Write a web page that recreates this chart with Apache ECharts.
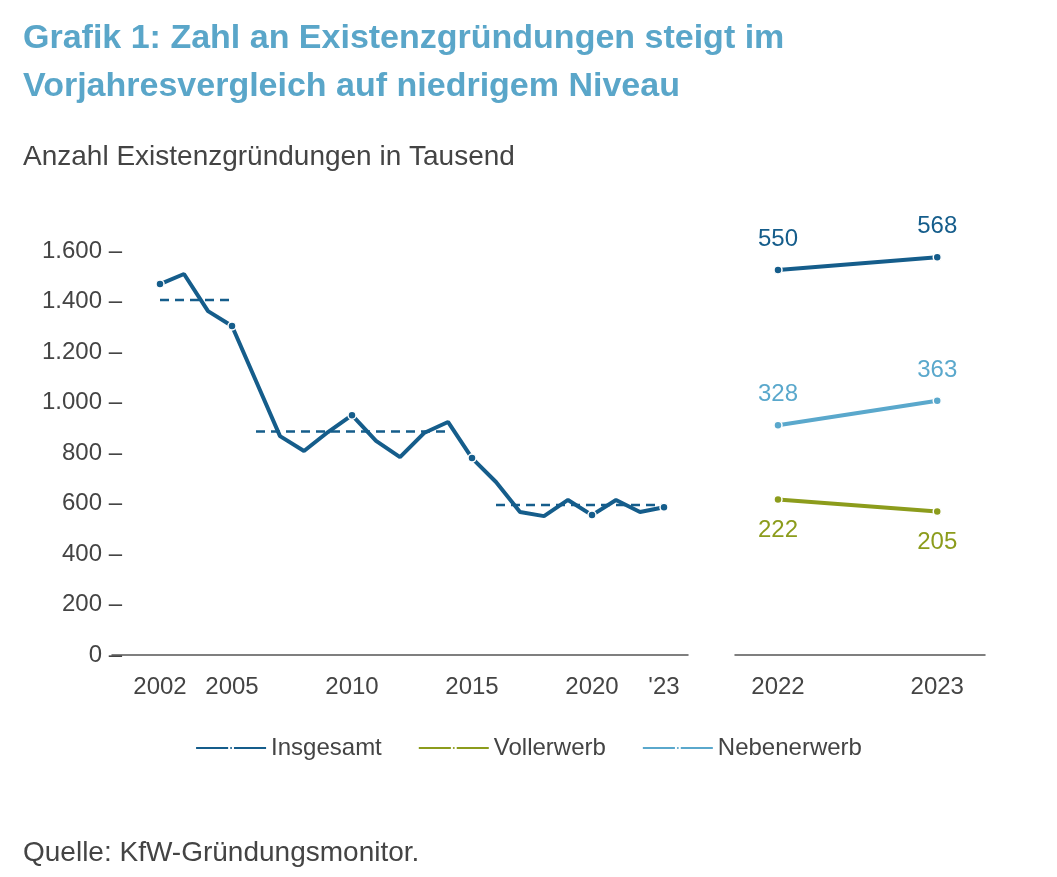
<!DOCTYPE html>
<html><head><meta charset="utf-8">
<script src="https://cdn.jsdelivr.net/npm/echarts@6/dist/echarts.min.js"></script>
<style>body{margin:0}#c{width:1057px;height:877px}</style></head>
<body><div id="c"></div>
<script>
const years = [2002,2003,2004,2005,2006,2007,2008,2009,2010,2011,2012,2013,2014,2015,2016,2017,2018,2019,2020,2021,2022,2023];
const insgesamt = [1469,1509,1362,1303,1085,867,808,883,950,848,784,879,923,780,685,566,550,614,554,614,566,585];
const markedYears = [2002,2005,2010,2015,2020,2023];
const avg1 = [[2002,1406],[2005,1406]];
const avg2 = [[2006,885],[2014,885]];
const avg3 = [[2016,594],[2023,594]];
const xTicks = [2002,2005,2010,2015,2020,2023];
const yTicks = [0,200,400,600,800,1000,1200,1400,1600];
const rYears = [2022,2023];
const rInsgesamt = [550,568];
const rVoll = [222,205];
const rNeben = [328,363];
const changes = ['+3 %','-8 %','+11 %'];

const F='Liberation Sans';
const dark='#155d8b', light='#5aa8cc', green='#8c9c1c', gray='#444';
const chart = echarts.init(document.getElementById('c'));
const lbl = (pos,color)=>({show:true,position:pos,distance:14,color:color,fontSize:24,fontFamily:F});
const pct = (t,color)=>({show:true,position:'inside',formatter:t,color:color,fontSize:24,fontFamily:F});
chart.setOption({
  animation:false,
  textStyle:{fontFamily:F},
  title:[
    {text:'Grafik 1: Zahl an Existenzgründungen steigt im\nVorjahresvergleich auf niedrigem Niveau',left:18,top:10,
     textStyle:{color:'#5aa6c9',fontSize:34,fontWeight:'bold',lineHeight:48,fontFamily:F}},
    {text:'Anzahl Existenzgründungen in Tausend',left:18,top:138,textStyle:{color:gray,fontSize:28,fontWeight:'normal',fontFamily:F}},
    {text:'Quelle: KfW-Gründungsmonitor.',left:18,top:834,textStyle:{color:gray,fontSize:28,fontWeight:'normal',fontFamily:F}}
  ],
  legend:{bottom:112,left:'center',itemWidth:70,itemHeight:5,itemGap:36,
    textStyle:{color:gray,fontSize:24,fontFamily:F},data:['Insgesamt','Vollerwerb','Nebenerwerb']},
  grid:[
    {left:112,right:369,top:251,bottom:222},
    {left:735,right:72,top:251,bottom:222}
  ],
  xAxis:[
    {type:'value',gridIndex:0,min:2000,max:2024,splitLine:{show:false},
     axisLine:{lineStyle:{color:'#555',width:1.5}},axisTick:{show:false},
     axisLabel:{customValues:xTicks,color:gray,fontSize:24,fontFamily:F,margin:20,formatter:v=>v===2023?"'23":String(v)}},
    {type:'value',gridIndex:1,min:2021.73,max:2023.3,splitLine:{show:false},
     axisLine:{lineStyle:{color:'#555',width:1.5}},axisTick:{show:false},
     axisLabel:{customValues:rYears,color:gray,fontSize:24,fontFamily:F,margin:20,formatter:v=>String(v)}}
  ],
  yAxis:[
    {type:'value',gridIndex:0,min:0,max:1600,interval:200,splitLine:{show:false},axisLine:{show:false},axisTick:{show:false},
     axisLabel:{customValues:yTicks,color:gray,fontSize:24,fontFamily:F,margin:-10,formatter:v=>v.toLocaleString('de-DE')+' –'}},
    {type:'value',gridIndex:1,min:0,max:577,show:false}
  ],
  series:[
    {name:'Insgesamt',type:'line',xAxisIndex:0,yAxisIndex:0,data:years.map((y,i)=>[y,insgesamt[i]]),
     color:dark,lineStyle:{width:4},symbol:'circle',
     symbolSize:(v)=>markedYears.includes(v[0])?8:0,itemStyle:{color:dark,borderColor:'#fff',borderWidth:1.5}},
    ...[avg1,avg2,avg3].map(d=>({type:'line',xAxisIndex:0,yAxisIndex:0,data:d,symbol:'none',
      lineStyle:{color:dark,width:2.5,type:[9,6]},silent:true})),
    {name:'Insgesamt',type:'line',xAxisIndex:1,yAxisIndex:1,data:rYears.map((y,i)=>[y,rInsgesamt[i]]),
     color:dark,lineStyle:{width:4},symbol:'circle',symbolSize:8,itemStyle:{color:dark,borderColor:'#fff',borderWidth:1.5},
     label:lbl('top',dark)},
    {name:'Vollerwerb',type:'line',xAxisIndex:1,yAxisIndex:1,data:rYears.map((y,i)=>[y,rVoll[i]]),
     color:green,lineStyle:{width:4},symbol:'circle',symbolSize:8,itemStyle:{color:green,borderColor:'#fff',borderWidth:1.5},
     label:lbl('bottom',green)},
    {name:'Nebenerwerb',type:'line',xAxisIndex:1,yAxisIndex:1,data:rYears.map((y,i)=>[y,rNeben[i]]),
     color:light,lineStyle:{width:4},symbol:'circle',symbolSize:8,itemStyle:{color:light,borderColor:'#fff',borderWidth:1.5},
     label:lbl('top',light)},
    {type:'scatter',xAxisIndex:1,yAxisIndex:1,symbolSize:1,silent:true,clip:false,itemStyle:{opacity:0},
     labelLayout:{hideOverlap:false},
     data:[
       {value:[2022.5,rInsgesamt[0]+52],label:pct(changes[0],dark)},
       {value:[2022.5,rVoll[1]-38],label:pct(changes[1],green)},
       {value:[2022.5,rNeben[0]+82],label:pct(changes[2],light)}
     ]}
  ]
});
</script></body></html>
